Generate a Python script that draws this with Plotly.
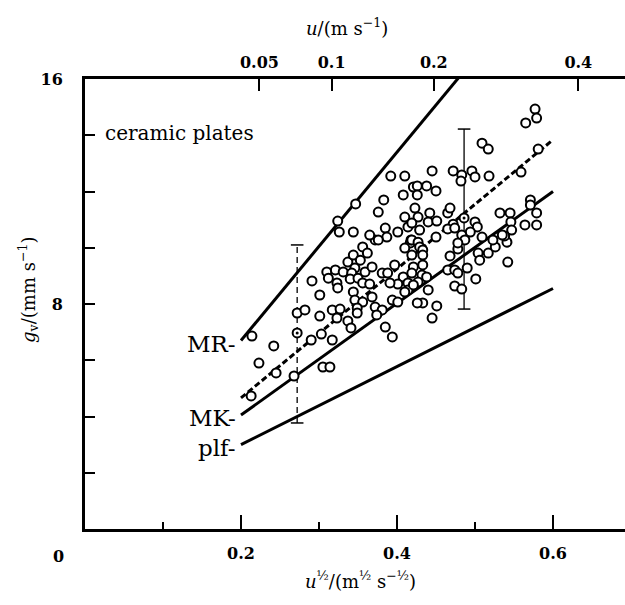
import numpy as np
import plotly.graph_objects as go

# Measured points: square root of flow speed (m^1/2 s^-1/2) vs. g_v (mm s^-1)
sqrt_u = [
    0.214, 0.242, 0.223, 0.245, 0.213, 0.268, 0.305, 0.314, 0.272, 0.282,
    0.290, 0.303, 0.317, 0.301, 0.317, 0.323, 0.301, 0.291, 0.310, 0.321,
    0.331, 0.312, 0.323, 0.324, 0.337, 0.344, 0.353, 0.346, 0.359, 0.368,
    0.342, 0.340, 0.350, 0.356, 0.365, 0.381, 0.356, 0.372, 0.362, 0.344,
    0.346, 0.356, 0.349, 0.368, 0.372, 0.381, 0.374, 0.349, 0.337, 0.341,
    0.327, 0.385, 0.394, 0.388, 0.397, 0.408, 0.414, 0.401, 0.391, 0.394,
    0.401, 0.414, 0.417, 0.419, 0.392, 0.410, 0.347, 0.324, 0.326, 0.344,
    0.383, 0.408, 0.376, 0.410, 0.421, 0.423, 0.385, 0.387, 0.365, 0.376,
    0.401, 0.414, 0.418, 0.445, 0.472, 0.426, 0.438, 0.450, 0.426, 0.442,
    0.465, 0.427, 0.440, 0.451, 0.468, 0.419, 0.419, 0.427, 0.429, 0.433,
    0.472, 0.465, 0.450, 0.421, 0.433, 0.432, 0.438, 0.427, 0.440, 0.410,
    0.421, 0.433, 0.451, 0.445, 0.426, 0.474, 0.483, 0.501, 0.465, 0.474,
    0.478, 0.490, 0.468, 0.478, 0.504, 0.517, 0.506, 0.526, 0.541, 0.542,
    0.577, 0.579, 0.565, 0.509, 0.517, 0.581, 0.559, 0.483, 0.482, 0.496,
    0.500, 0.518, 0.571, 0.571, 0.532, 0.545, 0.579, 0.546, 0.564, 0.579,
    0.547, 0.538, 0.500, 0.503, 0.494, 0.474, 0.483, 0.487, 0.509, 0.523,
    0.535, 0.478, 0.433, 0.429, 0.410, 0.419,
]
g_v = [
    6.86, 6.51, 5.90, 5.55, 4.73, 5.44, 5.76, 5.76, 7.68, 7.79,
    6.72, 6.93, 6.72, 7.57, 7.79, 7.50, 8.32, 8.82, 9.14, 9.21,
    9.14, 8.92, 8.75, 8.57, 9.49, 9.74, 9.56, 9.28, 9.14, 9.32,
    9.10, 8.89, 8.92, 8.75, 8.71, 9.10, 10.03, 10.28, 9.81, 8.43,
    8.14, 8.07, 7.86, 8.25, 7.89, 7.79, 7.61, 7.68, 7.40, 7.15,
    7.82, 7.18, 6.83, 9.10, 9.39, 8.96, 8.75, 8.71, 8.75, 8.14,
    8.07, 8.50, 10.17, 9.74, 12.55, 12.55, 11.56, 10.95, 10.56, 10.56,
    11.70, 11.88, 11.27, 11.09, 12.16, 11.41, 10.70, 10.38, 10.45, 10.28,
    10.56, 10.74, 10.28, 12.73, 12.73, 12.20, 12.20, 12.02, 11.88, 11.24,
    11.24, 11.09, 10.92, 10.95, 11.41, 10.88, 10.28, 10.20, 10.03, 9.92,
    10.84, 10.67, 10.38, 9.32, 9.39, 9.03, 8.96, 8.78, 8.50, 8.43,
    8.68, 8.04, 7.93, 7.50, 8.04, 8.64, 8.53, 8.89, 9.21, 9.21,
    9.10, 9.28, 9.71, 9.96, 9.81, 9.81, 9.56, 10.03, 10.20, 9.49,
    14.93, 14.61, 14.44, 13.72, 13.51, 13.51, 12.69, 12.59, 12.37, 12.73,
    12.52, 12.55, 11.70, 11.52, 11.24, 11.24, 11.24, 10.92, 10.81, 10.81,
    10.63, 10.42, 10.92, 10.74, 10.56, 10.70, 10.45, 10.28, 10.38, 10.28,
    10.45, 10.17, 9.74, 10.63, 9.99, 9.10,
]

# Model lines (start and end of each segment)
line_x = [0.2, 0.6]
mr_y = [6.70, 20.10]
mk_y = [4.05, 12.00]
fit_y = [4.66, 13.84]
plf_y = [3.00, 8.55]

# Representative scatter: centre value with lower / upper limits
eb_x = [0.272, 0.486]
eb_mid = [6.97, 11.06]
eb_lo = [3.77, 7.82]
eb_hi = [10.10, 14.22]
eb_dash = ["6px,4px", "solid"]

# Upper axis: flow speed u in m s^-1
u_ticks = [0.05, 0.1, 0.2, 0.4]
u_labels = ["0.05", "0.1", "0.2", "0.4"]

x_ticks = [0.2, 0.4, 0.6]
x_labels = ["0.2", "0.4", "0.6"]
y_ticks = [8, 16]
y_labels = ["8", "16"]

SERIF = "DejaVu Serif"
fig = go.Figure()

# Error bars
for x, lo, hi, dash in zip(eb_x, eb_lo, eb_hi, eb_dash):
    fig.add_trace(go.Scatter(
        x=[x, x], y=[lo, hi], mode="lines+markers",
        line=dict(color="black", width=1.3, dash=dash),
        marker=dict(symbol="line-ew", size=9,
                    line=dict(color="black", width=1.5)),
        hoverinfo="skip", showlegend=False))

# Model lines
for ys, dash in [(mr_y, "solid"), (mk_y, "solid"), (plf_y, "solid"),
                 (fit_y, "6px,3px")]:
    fig.add_trace(go.Scatter(
        x=line_x, y=ys, mode="lines",
        line=dict(color="black", width=3, dash=dash),
        hoverinfo="skip", showlegend=False))

# Measurements
fig.add_trace(go.Scatter(
    x=sqrt_u, y=g_v, mode="markers",
    marker=dict(symbol="circle", size=9, color="white",
                line=dict(color="black", width=2)),
    showlegend=False))

# Centres of the error bars
fig.add_trace(go.Scatter(
    x=eb_x, y=eb_mid, mode="markers",
    marker=dict(symbol="circle", size=9, color="white",
                line=dict(color="black", width=2)),
    showlegend=False))
fig.add_trace(go.Scatter(
    x=eb_x, y=eb_mid, mode="markers",
    marker=dict(symbol="circle", size=3, color="black"),
    showlegend=False))

# Carrier trace for the top axis
fig.add_trace(go.Scatter(
    x=list(np.sqrt(u_ticks)), y=[16] * len(u_ticks), xaxis="x2",
    mode="markers", marker=dict(opacity=0), hoverinfo="skip",
    showlegend=False))

x_range = [0, 0.6923]
tick_font = dict(family=SERIF, size=16, color="black", weight="bold")

fig.update_layout(
    width=625, height=605,
    margin=dict(l=85, r=0, t=79, b=76),
    paper_bgcolor="white", plot_bgcolor="white",
    font=dict(family=SERIF, color="black"),
    xaxis=dict(
        range=x_range, showgrid=False, zeroline=False,
        showline=True, linecolor="black", linewidth=3,
        ticks="inside", ticklen=14, tickwidth=1.5, tickcolor="black",
        tickvals=x_ticks, ticktext=x_labels, tickfont=tick_font,
        ticklabelstandoff=8,
        minor=dict(tickvals=[0.1, 0.3, 0.5], ticks="inside", ticklen=7,
                   tickwidth=1.5, tickcolor="black", showgrid=False),
    ),
    xaxis2=dict(
        range=x_range, overlaying="x", side="top",
        showgrid=False, zeroline=False,
        showline=True, linecolor="black", linewidth=3,
        ticks="inside", ticklen=12, tickwidth=1.5, tickcolor="black",
        tickvals=list(np.sqrt(u_ticks)), ticktext=u_labels,
        tickfont=tick_font, ticklabelstandoff=2,
    ),
    yaxis=dict(
        range=[0, 16], showgrid=False, zeroline=False,
        showline=True, linecolor="black", linewidth=3,
        ticks="inside", ticklen=10, tickwidth=1.5, tickcolor="black",
        tickvals=y_ticks, ticktext=y_labels, tickfont=tick_font,
        ticklabelstandoff=16,
        minor=dict(dtick=2, tick0=0, ticks="inside", ticklen=10,
                   tickwidth=1.5, tickcolor="black", showgrid=False),
    ),
)

annotations = [
    # origin label
    dict(x=0, y=0, xref="x", yref="y", text="<b>0</b>", showarrow=False,
         xanchor="right", yanchor="top", xshift=-19, yshift=-16,
         font=dict(family=SERIF, size=16)),
    # axis titles
    dict(x=0.336, y=1.1156, xref="x", yref="paper",
         text="<i>u</i>/(m s<sup>−1</sup>)", showarrow=False,
         xanchor="center", yanchor="middle",
         font=dict(family=SERIF, size=18)),
    dict(x=0.3526, y=-0.113, xref="x", yref="paper",
         text="<i>u</i><sup>½</sup>/(m<sup>½</sup> s<sup>−½</sup>)",
         showarrow=False, xanchor="center", yanchor="middle",
         font=dict(family=SERIF, size=18)),
    dict(x=-0.1056, y=8.5, xref="paper", yref="y",
         text="<i>g</i><sub>v</sub>/(mm s<sup>−1</sup>)", showarrow=False,
         textangle=-90, xanchor="center", yanchor="middle",
         font=dict(family=SERIF, size=18)),
    # panel label
    dict(x=0.023, y=14.08, xref="x", yref="y", text="ceramic plates",
         showarrow=False, xanchor="left", yanchor="middle",
         font=dict(family=SERIF, size=20)),
]

# Line labels at the left end of each model line
for name, ys in [("MR", mr_y), ("MK", mk_y), ("plf", plf_y)]:
    annotations.append(dict(
        x=line_x[0], y=ys[0], xref="x", yref="y", text=name + "-",
        showarrow=False, xanchor="right", yanchor="middle",
        xshift=-3, yshift=-3, font=dict(family=SERIF, size=23)))

fig.update_layout(annotations=annotations)

fig.write_html("out.html")
